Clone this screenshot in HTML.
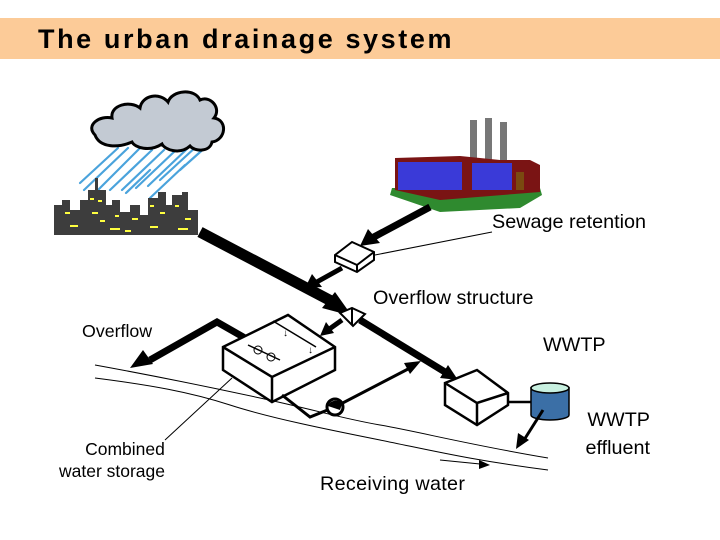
<!DOCTYPE html>
<html><head><meta charset="utf-8"><style>
html,body{margin:0;padding:0;background:#fff;}
svg{display:block;font-family:"Liberation Sans",Arial,sans-serif;}
</style></head><body>
<svg width="720" height="540" viewBox="0 0 720 540" xmlns="http://www.w3.org/2000/svg">
<rect x="0" y="18" width="720" height="41" fill="#FCCB98"/>
<text x="38" y="48" font-size="27" font-weight="bold" letter-spacing="2.6" fill="#000">The urban drainage system</text>

<g stroke="#4aa3dc" stroke-width="2.2" stroke-linecap="round">
<line x1="118" y1="148" x2="80" y2="183"/><line x1="128" y1="148" x2="84" y2="190"/>
<line x1="140" y1="148" x2="96" y2="192"/><line x1="152" y1="150" x2="110" y2="190"/>
<line x1="164" y1="150" x2="122" y2="190"/><line x1="176" y1="150" x2="136" y2="188"/>
<line x1="188" y1="148" x2="148" y2="186"/><line x1="198" y1="145" x2="160" y2="180"/>
<line x1="208" y1="145" x2="180" y2="170"/><line x1="150" y1="170" x2="126" y2="193"/>
<line x1="185" y1="165" x2="150" y2="198"/>
</g>
<path d="M95,135 C85,125 100,115 112,118 C110,105 130,100 140,108 C142,95 160,92 168,102 C172,90 195,88 200,100 C210,95 222,108 214,118 C228,120 226,140 212,142 C210,152 195,152 190,146 C180,155 165,150 162,144 C150,152 135,148 132,142 C118,148 100,148 95,135 Z" fill="#c3cad3" stroke="#000" stroke-width="3"/>
<path d="M54,235 L54,205 L62,205 L62,200 L70,200 L70,210 L80,210 L80,200 L88,200 L88,190 L95,190 L95,178 L98,178 L98,190 L106,190 L106,205 L112,205 L112,200 L120,200 L120,212 L130,212 L130,205 L140,205 L140,215 L148,215 L148,198 L158,198 L158,192 L166,192 L166,205 L172,205 L172,195 L182,195 L182,192 L188,192 L188,210 L198,210 L198,235 Z" fill="#3d3d3d"/>
<g fill="#ffff40">
<rect x="65" y="212" width="5" height="2"/><rect x="90" y="198" width="4" height="2"/><rect x="98" y="200" width="4" height="2"/><rect x="92" y="212" width="6" height="2"/>
<rect x="100" y="220" width="5" height="2"/><rect x="115" y="215" width="4" height="2"/><rect x="132" y="218" width="6" height="2"/><rect x="150" y="205" width="4" height="2"/>
<rect x="160" y="212" width="5" height="2"/><rect x="175" y="205" width="4" height="2"/><rect x="185" y="218" width="6" height="2"/><rect x="70" y="225" width="8" height="2"/>
<rect x="110" y="228" width="10" height="2"/><rect x="150" y="226" width="8" height="2"/><rect x="178" y="228" width="10" height="2"/><rect x="125" y="230" width="6" height="2"/>
</g>
<g>
<rect x="470" y="120" width="7" height="45" fill="#777"/><rect x="485" y="118" width="7" height="47" fill="#777"/><rect x="500" y="122" width="7" height="45" fill="#777"/>
<path d="M390,195 L392,188 L540,188 L542,195 L520,208 L440,212 Z" fill="#2f8a2f"/>
<path d="M395,158 L460,156 L500,160 L530,160 L540,165 L540,192 L440,200 L395,190 Z" fill="#7a1414"/>
<rect x="398" y="162" width="64" height="28" fill="#3a3ad8"/>
<rect x="472" y="163" width="40" height="27" fill="#3a3ad8"/>
<rect x="516" y="172" width="8" height="18" fill="#7a4a10"/>
</g>

<line x1="200" y1="232" x2="335" y2="303" stroke="#000" stroke-width="11"/>
<polygon points="352,316 322,308 335,292" fill="#000"/>
<line x1="430" y1="207" x2="372" y2="238" stroke="#000" stroke-width="7"/>
<polygon points="360,246 368,229 380,243" fill="#000"/>
<path d="M335,255 L352,242 L374,252 L374,260 L357,272 L335,262 Z" fill="#fff" stroke="#000" stroke-width="2"/>
<path d="M335,255 L357,265 L374,252 M357,265 L357,272" fill="none" stroke="#000" stroke-width="2"/>
<line x1="375" y1="255" x2="492" y2="232" stroke="#000" stroke-width="1"/>
<line x1="342" y1="268" x2="315" y2="283" stroke="#000" stroke-width="5"/>
<polygon points="305,288 312,274 322,287" fill="#000"/>
<path d="M340,313 L352,308 L365,314 L353,326 Z" fill="#fff" stroke="#000" stroke-width="2"/>
<line x1="352" y1="308" x2="352" y2="325" stroke="#000" stroke-width="2"/>
<line x1="342" y1="320" x2="328" y2="330" stroke="#000" stroke-width="5"/>
<polygon points="320,336 326,322 334,333" fill="#000"/>
<line x1="360" y1="320" x2="445" y2="372" stroke="#000" stroke-width="7"/>
<polygon points="458,380 440,378 448,365" fill="#000"/>
<polyline points="245,338 217,322 150,360" fill="none" stroke="#000" stroke-width="7"/>
<polygon points="130,368 143,350 153,364" fill="#000"/>
<path d="M223,347 L288,315 L335,347 L335,370 L272,402 L223,370 Z" fill="#fff" stroke="#000" stroke-width="2.5"/>
<path d="M223,347 L272,377 L335,347 M272,377 L272,402" fill="none" stroke="#000" stroke-width="2.5"/>
<line x1="273" y1="321" x2="316" y2="347" stroke="#000" stroke-width="1.5"/>
<line x1="248" y1="345" x2="280" y2="360" stroke="#000" stroke-width="1.5"/>
<text x="283" y="336" font-size="10">↓</text><text x="308" y="353" font-size="10">↓</text>
<circle cx="258" cy="350" r="4" fill="none" stroke="#000"/><circle cx="271" cy="357" r="4" fill="none" stroke="#000"/>
<polyline points="282,395 310,417 335,407 410,368" fill="none" stroke="#000" stroke-width="3"/>
<polygon points="421,361 404,363 410,374" fill="#000"/>
<circle cx="335" cy="407" r="8" fill="#fff" stroke="#000" stroke-width="3"/>
<path d="M328,406 A8,8 0 0 1 342,404 L340,410 Z" fill="#000"/>
<path d="M445,383 L477,370 L508,393 L508,405 L477,425 L445,405 Z" fill="#fff" stroke="#000" stroke-width="2.5"/>
<path d="M445,383 L477,403 L508,393 M477,403 L477,425" fill="none" stroke="#000" stroke-width="2.5"/>
<line x1="508" y1="402" x2="531" y2="402" stroke="#000" stroke-width="2.5"/>
<path d="M531,388 L531,415 A19,5 0 0 0 569,415 L569,388 Z" fill="#3b6fa6" stroke="#000" stroke-width="1.5"/>
<ellipse cx="550" cy="388" rx="19" ry="5" fill="#c8f0e0" stroke="#000" stroke-width="1.5"/>
<line x1="543" y1="410" x2="524" y2="440" stroke="#000" stroke-width="3"/>
<polygon points="516,449 518,433 529,440" fill="#000"/>
<path d="M95,365 C150,375 200,385 260,398 S340,418 380,425 S470,445 548,458" fill="none" stroke="#000" stroke-width="1"/>
<path d="M95,378 C150,385 190,392 230,405 S330,430 380,440 S470,460 548,470" fill="none" stroke="#000" stroke-width="1"/>
<line x1="440" y1="460" x2="480" y2="464" stroke="#000" stroke-width="1"/>
<polygon points="490,465 479,460 479,469" fill="#000"/>
<line x1="165" y1="440" x2="232" y2="378" stroke="#000" stroke-width="1"/>

<g font-size="19.8" fill="#000">
<text x="492" y="228">Sewage retention</text>
<text x="373" y="304">Overflow structure</text>
<text x="82" y="337" font-size="17.8">Overflow</text>
<text x="543" y="351">WWTP</text>
<text x="650" y="426" text-anchor="end">WWTP</text>
<text x="650" y="454" text-anchor="end">effluent</text>
<text x="125" y="455" text-anchor="middle" font-size="17.5">Combined</text>
<text x="112" y="477" text-anchor="middle" font-size="17.5">water storage</text>
<text x="320" y="490" letter-spacing="0.3">Receiving water</text>
</g>
</svg>
</body></html>
